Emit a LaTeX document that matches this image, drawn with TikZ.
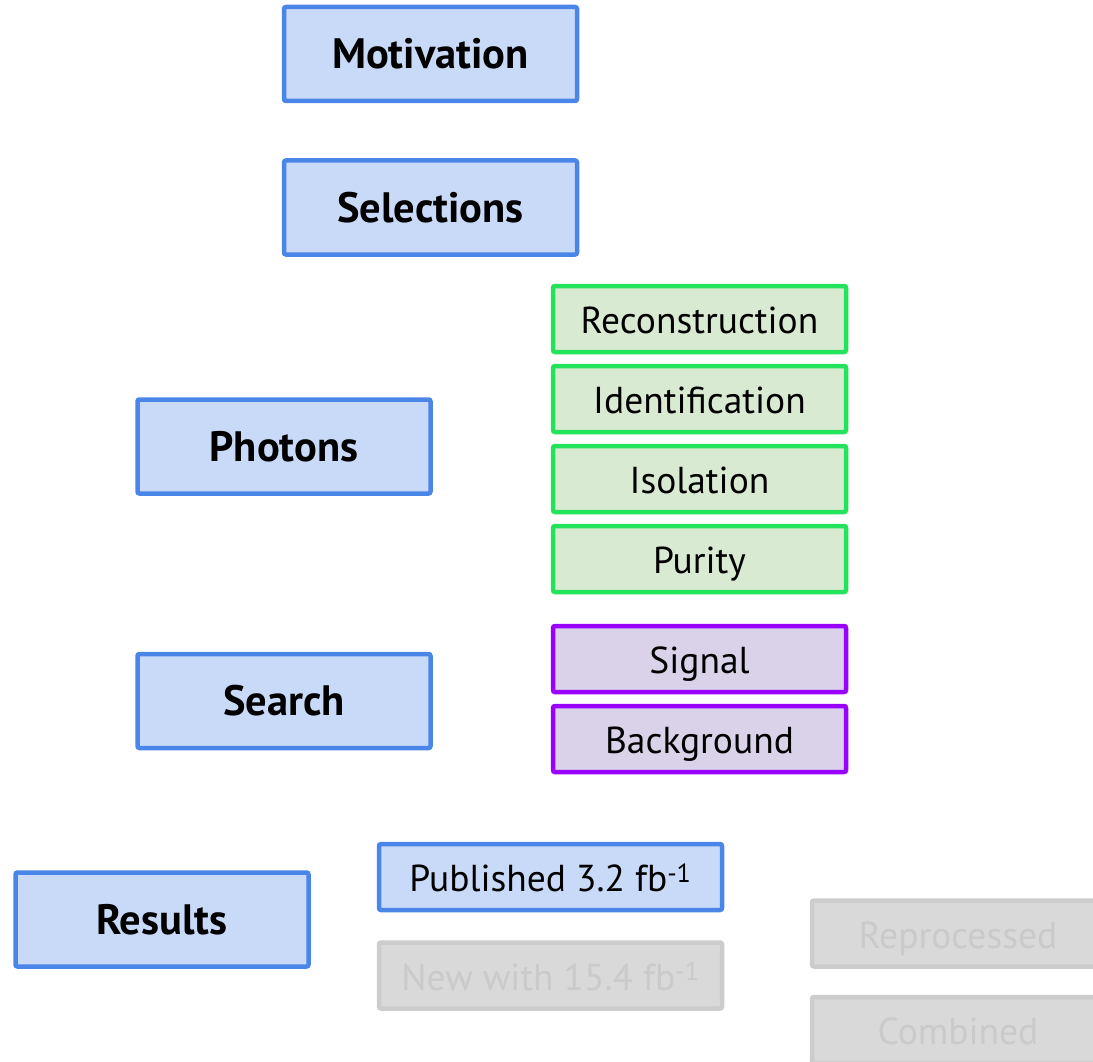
\documentclass[tikz,border=0pt]{standalone}
\usepackage{fontspec}
\setmainfont{PT Sans}
\definecolor{blueline}{HTML}{4A86E8}
\definecolor{bluefill}{HTML}{C9DAF8}
\definecolor{greenline}{HTML}{22E35A}
\definecolor{greenfill}{HTML}{D9EAD3}
\definecolor{purpleline}{HTML}{9900FF}
\definecolor{purplefill}{HTML}{D9D2E9}
\definecolor{grayline}{HTML}{CCCCCC}
\definecolor{grayfill}{HTML}{D9D9D9}
\definecolor{graytext}{HTML}{CACACA}
\begin{document}
\begin{tikzpicture}[x=1pt,y=-1pt,
  box/.style={rectangle, line width=4.5pt, rounded corners=2pt, inner sep=0pt, anchor=center},
  mainbox/.style={box, draw=blueline, fill=bluefill, minimum width=293pt, minimum height=94pt,
    font=\fontsize{42.5}{46}\selectfont\bfseries},
  subbox/.style={box, minimum width=293pt, minimum height=66pt, text height=29pt, text depth=0pt,
    font=\fontsize{37.5}{42}\selectfont},
  greenbox/.style={subbox, draw=greenline, fill=greenfill},
  purplebox/.style={subbox, draw=purpleline, fill=purplefill},
  bluesub/.style={subbox, draw=blueline, fill=bluefill, minimum width=343pt},
  graybox/.style={subbox, draw=grayline, fill=grayfill, text=graytext}]
\useasboundingbox (0,0) rectangle (1093,1062);

% main topics
\node[mainbox] (motivation) at (430.5,54) {Motivation};
\node[mainbox] (selections) at (430.5,207.5) {Selections};
\node[mainbox] (photons) at (284,446.5) {Photons};
\node[mainbox] (search) at (284,701) {Search};
\node[mainbox] (results) at (162,919.5) {Results};

% photon steps
\node[greenbox] (reco) at (699.5,319) {Reconstruction};
\node[greenbox] (ident) at (699.5,399) {Identification};
\node[greenbox] (iso) at (699.5,479) {Isolation};
\node[greenbox] (purity) at (699.5,559) {Purity};

% search parts
\node[purplebox] (signal) at (699.5,659) {Signal};
\node[purplebox] (bkg) at (699.5,739) {Background};

% results
\node[bluesub] (published) at (550.5,877) {Published 3.2 fb\textsuperscript{-1}};
\node[graybox, minimum width=343pt] (newres) at (550.5,975.5) {New with 15.4 fb\textsuperscript{-1}};
\node[graybox, minimum width=292pt] (reproc) at (958,933.5) {Reprocessed};
\node[graybox, minimum width=292pt] (combined) at (958,1030) {Combined};
\end{tikzpicture}
\end{document}
